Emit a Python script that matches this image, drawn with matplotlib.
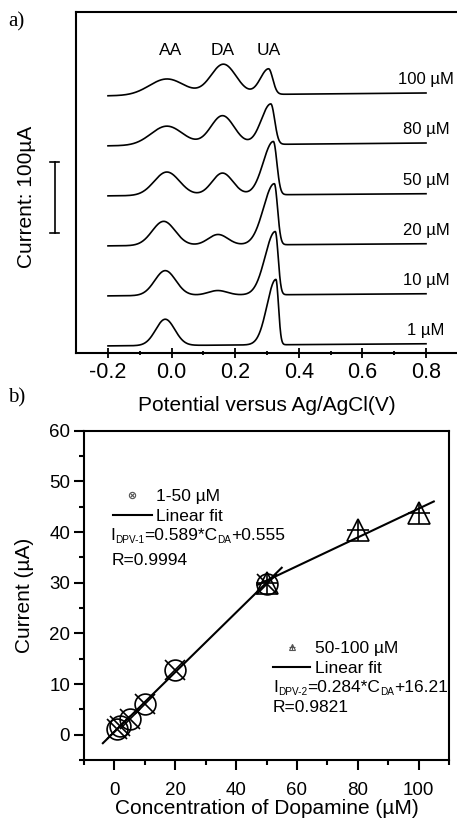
import numpy as np
import matplotlib
matplotlib.use("Agg")
import matplotlib.pyplot as plt
from matplotlib.ticker import MultipleLocator, FixedLocator

plt.rcParams["font.family"] = ["Liberation Sans", "DejaVu Sans"]

# ---- (a) DPV responses: peak current (uA), peak potential (V) and widths (V)
conc_labels = ["1 \u00b5M", "10 \u00b5M", "20 \u00b5M", "50 \u00b5M", "80 \u00b5M", "100 \u00b5M"]
aa_height = [37, 35, 34, 33, 27, 23]
aa_pos = [-0.02, -0.02, -0.025, -0.015, -0.015, -0.015]
aa_width = [0.03, 0.033, 0.036, 0.04, 0.05, 0.055]
da_height = [0, 6.5, 15, 31, 41, 43]
da_pos = [0.15, 0.145, 0.146, 0.16, 0.16, 0.163]
da_width = [0.03, 0.03, 0.031, 0.033, 0.037, 0.04]
ua_height = [92, 89, 86, 75, 57, 36]
ua_pos = [0.328, 0.326, 0.323, 0.32, 0.312, 0.305]
ua_width_left = [0.028, 0.032, 0.034, 0.032, 0.03, 0.026]
ua_width_right = [0.008, 0.009, 0.01, 0.011, 0.012, 0.013]
baseline_drift = [3, 3, 3, 3, 4, 4]  # uA rise across the scan
peak_names = ["AA", "DA", "UA"]
peak_label_pos = [-0.003, 0.162, 0.307]

# ---- (b) calibration data
conc_low = [1, 2, 5, 10, 20, 50]
current_low = [1.1, 1.7, 3.1, 6.1, 12.8, 29.8]
conc_high = [50, 80, 100]
current_high = [30.0, 40.4, 43.7]
fit1 = (0.589, 0.555)
fit2 = (0.284, 16.21)
fit1_range = (-3.8, 55)
fit2_range = (47, 105)

W, H = 457, 827
fig = plt.figure(figsize=(W / 100, H / 100), dpi=100)


def ax_rect(left, top, right, bottom):
    return [left / W, 1 - bottom / H, (right - left) / W, (bottom - top) / H]


def peak(x, h, c, wl, wr):
    s = np.where(x < c, wl, wr)
    return h * np.exp(-0.5 * ((x - c) / s) ** 2)


def chain_text(ax, x, y, parts, fs=12.5, sub_fs=7.2, sub_drop=1.4):
    """Write a run of text pieces; pieces flagged True are set as subscripts."""
    first = ax.text(x, y, parts[0][0], fontsize=fs, va="bottom", ha="left")
    prev = first
    for s, is_sub in parts[1:]:
        prev = ax.annotate(s, xy=(1, 0), xycoords=(prev, first),
                           xytext=(0, -sub_drop if is_sub else 0),
                           textcoords="offset points",
                           fontsize=sub_fs if is_sub else fs,
                           va="bottom", ha="left")
    return first


# ---------------- panel (a)
ax1 = fig.add_axes(ax_rect(76.2, 12, 457.8, 353))
E = np.linspace(-0.2, 0.8, 1201)
step = 70.4
for i, lab in enumerate(conc_labels):
    base = 10 + step * i
    y = (base + baseline_drift[i] * (E + 0.2)
         + peak(E, aa_height[i], aa_pos[i], aa_width[i], aa_width[i])
         + peak(E, da_height[i], da_pos[i], da_width[i], da_width[i])
         + peak(E, ua_height[i], ua_pos[i], ua_width_left[i], ua_width_right[i]))
    ax1.plot(E, y, color="black", lw=1.2)
    ax1.text(0.8, base + 19 + baseline_drift[i], lab, ha="center", va="center",
             fontsize=12)

for name, xp in zip(peak_names, peak_label_pos):
    ax1.text(xp, 426, name, ha="center", va="center", fontsize=12.5)

ax1.set_xlim(-0.3, 0.9)
ax1.set_ylim(0, 480)
ax1.set_yticks([])
ax1.spines["right"].set_visible(False)
for s in ["left", "top", "bottom"]:
    ax1.spines[s].set_linewidth(1.5)
ax1.xaxis.set_major_locator(FixedLocator([-0.2, 0.0, 0.2, 0.4, 0.6, 0.8]))
ax1.xaxis.set_minor_locator(FixedLocator([-0.1, 0.1, 0.3, 0.5, 0.7]))
ax1.set_xticklabels(["-0.2", "0.0", "0.2", "0.4", "0.6", "0.8"])
ax1.tick_params(axis="x", which="major", direction="inout", length=7, width=1.3,
                labelsize=15.5, pad=3)
ax1.tick_params(axis="x", which="minor", direction="inout", length=3.5, width=1.3)
ax1.set_xlabel("Potential versus Ag/AgCl(V)", fontsize=15, labelpad=9)

# scale bar: 100 uA
sb_x, sb_y0, sb_len = -0.367, 168.5, 100
ax1.plot([sb_x, sb_x], [sb_y0, sb_y0 + sb_len], color="black", lw=1.2, clip_on=False)
for yy in (sb_y0, sb_y0 + sb_len):
    ax1.plot([sb_x - 0.014, sb_x + 0.014], [yy, yy], color="black", lw=1.2,
             clip_on=False)
fig.text(27 / W, 1 - 197 / H, "Current: 100\u00b5A", rotation=90, ha="center",
         va="center", fontsize=15)

fig.text(8 / W, 1 - 22 / H, "a)", fontsize=15, family="Liberation Serif",
         ha="left", va="center")
fig.text(8 / W, 1 - 398 / H, "b)", fontsize=15, family="Liberation Serif",
         ha="left", va="center")

# ---------------- panel (b)
ax2 = fig.add_axes(ax_rect(84, 430.7, 449, 760))
ax2.set_xlim(-10, 110)
ax2.set_ylim(-5, 60)

xf1 = np.array(fit1_range)
ax2.plot(xf1, fit1[0] * xf1 + fit1[1], color="black", lw=1.5)
xf2 = np.array(fit2_range)
ax2.plot(xf2, fit2[0] * xf2 + fit2[1], color="black", lw=1.5)

ax2.plot(conc_low, current_low, ls="none", marker="o", ms=15, mfc="none",
         mec="black", mew=1.2)
ax2.plot(conc_low, current_low, ls="none", marker="x", ms=15, mec="black", mew=1.2)
ax2.plot(conc_high, current_high, ls="none", marker="^", ms=16, mfc="none",
         mec="black", mew=1.2)
ax2.plot(conc_high, current_high, ls="none", marker="+", ms=16, mec="black", mew=1.2)

# legend block 1
ax2.plot([5.7], [47.3], marker="o", ms=4.5, mfc="none", mec="#555555", mew=0.8)
ax2.plot([5.7], [47.3], marker="x", ms=3.2, mec="#555555", mew=0.8)
ax2.text(13.8, 47.3, "1-50 \u00b5M", fontsize=12.5, va="center_baseline")
ax2.plot([-0.5, 12.3], [43.4, 43.4], color="black", lw=1.5)
ax2.text(13.7, 43.4, "Linear fit", fontsize=12.5, va="center_baseline")
chain_text(ax2, -1.4, 37.9, [("I", False), ("DPV-1", True), ("=0.589*C", False),
                             ("DA", True), ("+0.555", False)])
ax2.text(-0.8, 34.6, "R=0.9994", fontsize=12.5, va="center_baseline")

# legend block 2
ax2.plot([58.3], [17.4], marker="^", ms=5, mfc="none", mec="#555555", mew=0.8)
ax2.plot([58.3], [17.4], marker="+", ms=5, mec="#555555", mew=0.8)
ax2.text(65.9, 17.4, "50-100 \u00b5M", fontsize=12.5, va="center_baseline")
ax2.plot([52.1, 64.3], [13.4, 13.4], color="black", lw=1.5)
ax2.text(65.9, 13.4, "Linear fit", fontsize=12.5, va="center_baseline")
chain_text(ax2, 52.1, 7.8, [("I", False), ("DPV-2", True), ("=0.284*C", False),
                            ("DA", True), ("+16.21", False)])
ax2.text(52.1, 5.6, "R=0.9821", fontsize=12.5, va="center_baseline")

for s in ax2.spines.values():
    s.set_linewidth(1.5)
ax2.xaxis.set_major_locator(FixedLocator([0, 20, 40, 60, 80, 100]))
ax2.xaxis.set_minor_locator(MultipleLocator(10))
ax2.yaxis.set_major_locator(MultipleLocator(10))
ax2.yaxis.set_minor_locator(MultipleLocator(5))
ax2.tick_params(which="major", direction="out", length=7, width=1.5, labelsize=13.5,
                pad=3)
ax2.tick_params(axis="x", which="major", pad=9)
ax2.tick_params(which="minor", direction="out", length=3.5, width=1.5)
ax2.set_xlabel("Concentration of Dopamine (\u00b5M)", fontsize=15, labelpad=0)
ax2.set_ylabel("Current (\u00b5A)", fontsize=15, labelpad=11)

fig.savefig("out.png", dpi=100)
